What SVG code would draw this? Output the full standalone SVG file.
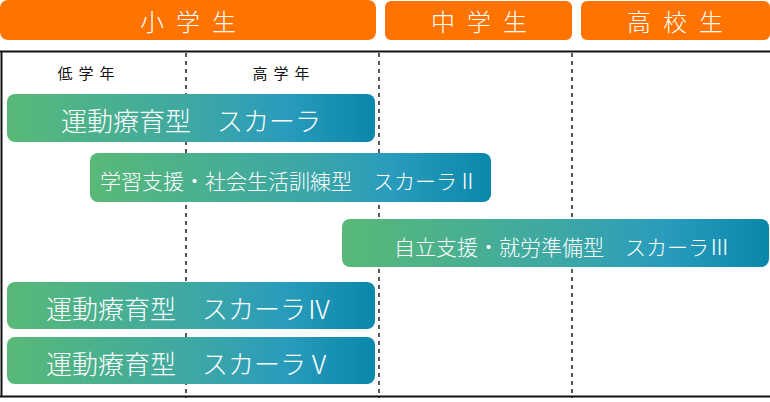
<svg xmlns="http://www.w3.org/2000/svg" width="770" height="402" viewBox="0 0 770 402">
<defs>
<linearGradient id="g" x1="0" y1="0" x2="1" y2="0">
<stop offset="0" stop-color="#58b977"/>
<stop offset="0.5" stop-color="#3ea8a4"/>
<stop offset="0.75" stop-color="#2a9cbc"/>
<stop offset="1" stop-color="#0a87ab"/>
</linearGradient>
<style>
.hdr{fill:#ff7300}
.ht{fill:#fff;font-family:"Noto Sans CJK JP","Noto Sans",sans-serif;font-size:24px;letter-spacing:12px;text-anchor:middle;font-weight:300}
.sub{fill:#111;font-family:"Noto Sans CJK JP","Noto Sans",sans-serif;font-size:15px;letter-spacing:6px;text-anchor:middle}
.bar{fill:url(#g)}
.bt{fill:#fff;font-family:"Noto Sans CJK JP","Noto Sans",sans-serif;text-anchor:middle;dominant-baseline:central;font-weight:300}
.dash{stroke:#222;stroke-width:1.5;stroke-dasharray:4 4;fill:none}
.frame{stroke:#111;stroke-width:2;fill:none}
</style>
</defs>
<rect width="770" height="402" fill="#fff"/>
<g id="headers">
<g id="h-elem"><rect class="hdr" x="0" y="0" width="376" height="40" rx="8"/><text class="ht" x="194" y="31">小学生</text></g>
<g id="h-jhs"><rect class="hdr" x="385" y="1" width="187" height="39" rx="6"/><text class="ht" x="485" y="31">中学生</text></g>
<g id="h-hs"><rect class="hdr" x="581" y="1" width="189" height="39" rx="6"/><text class="ht" x="681" y="31">高校生</text></g>
</g>
<g id="grid">
<path class="frame" d="M0 51.5H770M1.5 51V397M0 396.5H770"/>
<path class="dash" d="M186 53V398M379 53V398M572 53V398"/>
<text class="sub" x="89" y="79">低学年</text>
<text class="sub" x="284" y="79">高学年</text>
</g>
<g id="connectors"></g>
<g id="bar1"><rect class="bar" x="7" y="94" width="368" height="48" rx="8"/><text class="bt" x="191" y="119" font-size="26">運動療育型　スカーラ</text></g>
<g id="bar2"><rect class="bar" x="90" y="153" width="401" height="49" rx="8"/><text class="bt" x="289" y="180" font-size="21">学習支援・社会生活訓練型　スカーラⅡ</text></g>
<g id="bar3"><rect class="bar" x="342" y="219" width="427" height="48" rx="8"/><text class="bt" x="562" y="246" font-size="21">自立支援・就労準備型　スカーラⅢ</text></g>
<g id="bar4"><rect class="bar" x="7" y="282" width="368" height="47" rx="8"/><text class="bt" x="189" y="307" font-size="26">運動療育型　スカーラⅣ</text></g>
<g id="bar5"><rect class="bar" x="7" y="337" width="368" height="47" rx="8"/><text class="bt" x="189" y="362" font-size="26">運動療育型　スカーラⅤ</text></g>
</svg>
